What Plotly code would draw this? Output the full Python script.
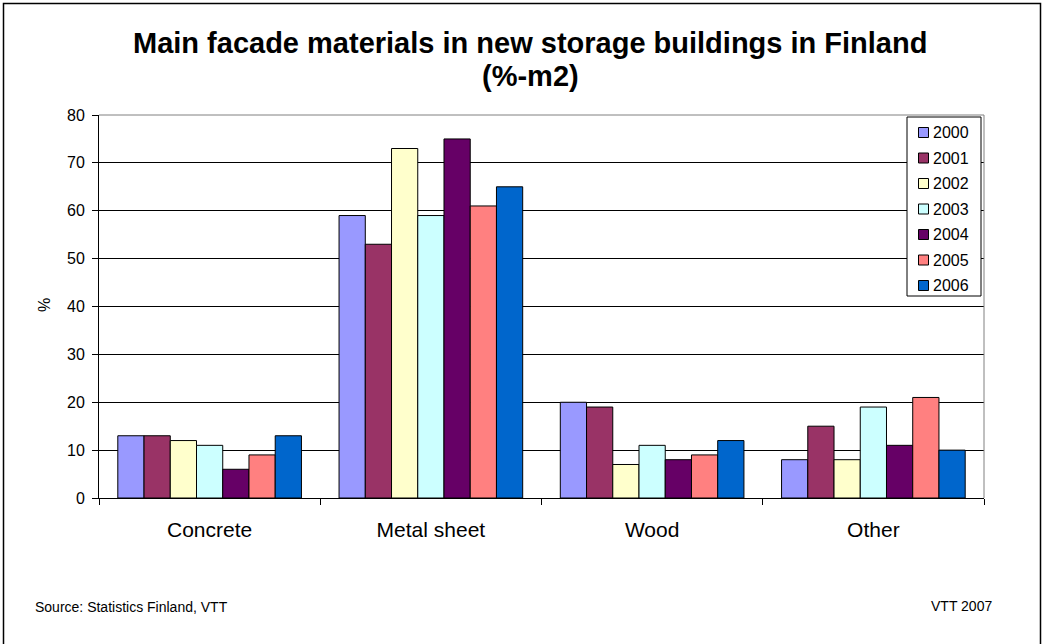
import plotly.graph_objects as go

categories = ["Concrete", "Metal sheet", "Wood", "Other"]
years = ["2000", "2001", "2002", "2003", "2004", "2005", "2006"]
values = {
    "2000": [13, 59, 20, 8],
    "2001": [13, 53, 19, 15],
    "2002": [12, 73, 7, 8],
    "2003": [11, 59, 11, 19],
    "2004": [6, 75, 8, 11],
    "2005": [9, 61, 9, 21],
    "2006": [13, 65, 12, 10],
}
colors = ["#9999FF", "#993366", "#FFFFCC", "#CCFFFF", "#660066", "#FF8080", "#0066CC"]
y_ticks = [0, 10, 20, 30, 40, 50, 60, 70, 80]
title_lines = ["Main facade materials in new storage buildings in Finland", "(%-m2)"]

W, H = 1042, 644
L, R, T, B = 99, 58, 115, 146
PW, PH = W - L - R, H - T - B


def px(x):
    """Horizontal pixel position -> plot-area paper coordinate."""
    return (x - L) / PW


def py(y):
    """Vertical pixel position (from top) -> plot-area paper coordinate."""
    return (H - B - y) / PH


FONT = "Liberation Sans, Arial, sans-serif"

fig = go.Figure()
for yr, col in zip(years, colors):
    fig.add_trace(go.Bar(
        x=categories, y=values[yr], name=yr,
        marker=dict(color=col, line=dict(color="#000000", width=1)),
    ))

fig.update_layout(
    width=W, height=H,
    margin=dict(l=L, r=R, t=T, b=B, pad=0),
    paper_bgcolor="white", plot_bgcolor="white",
    barmode="group", bargap=0.17, bargroupgap=0,
    font=dict(family=FONT, color="#000000"),
    showlegend=False,
    xaxis=dict(
        showline=True, linecolor="#000000", linewidth=1,
        ticks="outside", tickson="boundaries", ticklen=6, tickcolor="#000000",
        tickfont=dict(size=21), showgrid=False, ticklabelstandoff=13,
    ),
    yaxis=dict(
        range=[0, 80], tickvals=y_ticks, showline=True, linecolor="#000000", linewidth=1,
        ticks="outside", ticklen=6, tickcolor="#000000",
        showgrid=True, gridcolor="#000000", gridwidth=1,
        tickfont=dict(size=16), ticklabelstandoff=4,
        zeroline=False,
    ),
)

# two-line bold title
for text, yc in zip(title_lines, [43, 76]):
    fig.add_annotation(text=f"<b>{text}</b>", xref="paper", yref="paper",
                       x=px(530), y=py(yc), xanchor="center", yanchor="middle",
                       showarrow=False, font=dict(size=29))

# plot area border (top and right) and the outer frame around the chart
fig.add_shape(type="line", xref="paper", yref="paper", x0=0, x1=1, y0=1, y1=1,
              line=dict(color="#808080", width=1))
fig.add_shape(type="line", xref="paper", yref="paper", x0=1, x1=1, y0=0, y1=1,
              line=dict(color="#808080", width=1))
fig.add_shape(type="rect", xref="paper", yref="paper",
              x0=px(3.5), x1=px(1040.5), y0=py(660), y1=py(3.5),
              line=dict(color="#000000", width=1.5))

# y-axis title
fig.add_annotation(text="%", xref="paper", yref="paper", x=px(44), y=py(305),
                   xanchor="center", yanchor="middle", textangle=-90,
                   showarrow=False, font=dict(size=16))

# legend box with one swatch and label per year
LEG_X0, LEG_X1, LEG_Y0, LEG_Y1 = 907, 981, 117, 296
ROW0, ROW_STEP = 132.5, 25.5
fig.add_shape(type="rect", xref="paper", yref="paper",
              x0=px(LEG_X0), x1=px(LEG_X1), y0=py(LEG_Y1), y1=py(LEG_Y0),
              line=dict(color="#000000", width=1), fillcolor="white")
for i, (yr, col) in enumerate(zip(years, colors)):
    yc = ROW0 + i * ROW_STEP
    fig.add_shape(type="rect", xref="paper", yref="paper",
                  x0=px(918.5), x1=px(928.5), y0=py(yc + 5), y1=py(yc - 5),
                  line=dict(color="#000000", width=1), fillcolor=col)
    fig.add_annotation(text=yr, xref="paper", yref="paper", x=px(931), y=py(yc),
                       xanchor="left", yanchor="middle", showarrow=False,
                       font=dict(size=16))

fig.add_annotation(text="Source: Statistics Finland, VTT", xref="paper", yref="paper",
                   x=px(33), xanchor="left", y=py(607), yanchor="middle",
                   showarrow=False, font=dict(size=14))
fig.add_annotation(text="VTT 2007", xref="paper", yref="paper",
                   x=px(994), xanchor="right", y=py(606), yanchor="middle",
                   showarrow=False, font=dict(size=14))

fig.write_html("out.html")
